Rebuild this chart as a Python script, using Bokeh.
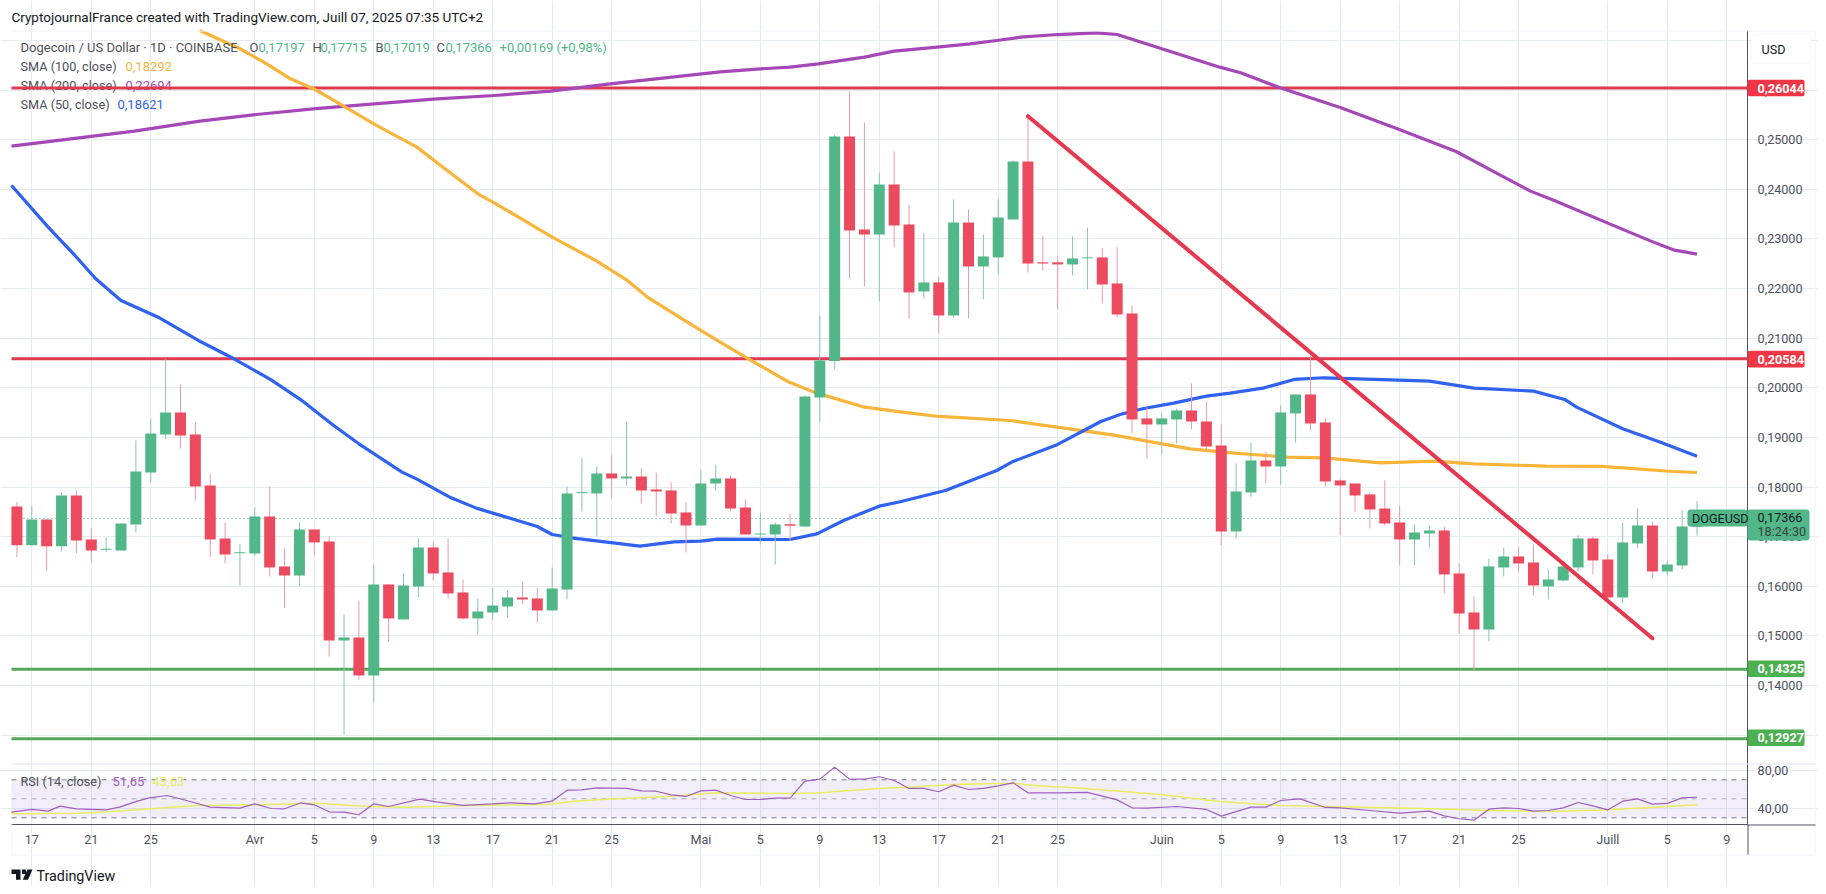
from bokeh.plotting import figure
from bokeh.models import (Range1d, FixedTicker, LinearAxis, Label, BoxAnnotation,
                          PolyAnnotation, ColumnDataSource, Grid)
from bokeh.embed import file_html
from bokeh.resources import INLINE

# ---------------- data ----------------
opens = [.17608,.16828,.17345,.16808,.17829,.16942,.16734,.1672,.17245,.18293,.19059,.19503,.19059,.18031,.16962,.16665,
 .1666,.17406,.16398,.16216,.17144,.16902,.14906,.14966,.142,.16035,.1533,.15995,.16781,.16277,
 .15874,.1535,.1547,.15591,.15773,.15753,.15511,.15934,.17875,.1787,.18273,.18172,.18212,.1795,.1793,.17487,
 .17224,.18071,.18172,.17587,.17043,.17043,.1725,.17204,.19805,.20538,.25067,.23192,.23091,.241,.23293,.21942,
 .22124,.21458,.23333,.22446,.22628,.23394,.24563,.2253,.2253,.22487,.2261,.22628,.22103,.21499,.19382,
 .19261,.19362,.19543,.19321,.18837,.17103,.1789,.18535,.18414,.19483,.19866,.19301,.18132,.18071,.1785,.17567,
 .17285,.16942,.17063,.17124,.16257,.1547,.15128,.16378,.166,.16478,.15995,.16116,.16378,.16962,
 .16539,.15773,.16862,.17224,.16297,.16418,.17197]
highs = [.17702,.17621,.17345,.1789,.1793,.17164,.16983,.17265,.18938,.19382,.20585,.20067,.19301,.18273,.17285,.16841,
 .17587,.18011,.16761,.17285,.17144,.17003,.1543,.15712,.16438,.16035,.16257,.16962,.16882,.16962,
 .16136,.15753,.15954,.15914,.16095,.15974,.16378,.18011,.18575,.18414,.18656,.19321,.18374,.18293,.18091,.17688,
 .18353,.18454,.18233,.17749,.17487,.17285,.17466,.19845,.21458,.25107,.25974,.25349,.24341,.24765,.23696,.23112,
 .22245,.23797,.23595,.23091,.23817,.24583,.2549,.23071,.22668,.23051,.23233,.22809,.22829,.2166,.19603,
 .19503,.1958,.20087,.19724,.19261,.18474,.18898,.18716,.19644,.19866,.20652,.19382,.18172,.18071,.1789,.18132,
 .17628,.17245,.17224,.17204,.16458,.15793,.16559,.16781,.16801,.16841,.16337,.16499,.17023,.17003,
 .1664,.17285,.17567,.17305,.16519,.17527,.17715]
lows = [.16586,.16828,.16304,.16707,.16667,.16485,.16687,.1672,.17083,.18091,.18965,.18777,.17728,.16586,.16465,.16015,
 .16613,.16196,.15558,.16015,.1662,.14583,.13011,.1412,.13656,.14886,.1533,.15773,.16116,.15753,
 .1533,.15027,.15309,.1537,.15632,.15269,.15511,.15733,.17507,.17003,.17769,.18031,.17668,.17406,.17265,.1668,
 .17224,.1793,.17507,.17043,.16841,.16438,.16909,.1719,.19301,.20363,.22204,.22043,.21741,.22829,.21398,.21801,
 .21095,.21418,.21398,.21781,.22285,.23394,.22325,.22366,.21579,.22265,.21983,.217,.21418,.19079,.18575,
 .18656,.18878,.1916,.18737,.16821,.16962,.17809,.18071,.18051,.18898,.1914,.18011,.17023,.17487,.17164,.17224,
 .16418,.16418,.16781,.15853,.15047,.143,.14886,.16196,.16277,.15813,.15733,.16095,.16297,.16237,
 .15712,.15672,.16761,.16156,.16216,.16337,.17019]
closes = [.16828,.17345,.16808,.17829,.16922,.1672,.16755,.17265,.18313,.19079,.19503,.19039,.18011,.16942,.1664,.16685,
 .17406,.16378,.16216,.17144,.16882,.14906,.14966,.142,.16035,.1535,.16015,.16781,.16257,.15853,
 .1535,.15491,.15611,.15773,.15733,.15511,.15954,.1787,.17895,.18273,.18172,.18212,.1793,.1791,.17466,.17224,
 .18071,.18172,.17567,.17043,.17063,.17245,.1722,.19825,.20551,.25067,.23172,.23091,.241,.23273,.21922,.22124,
 .21458,.23333,.22446,.22648,.23434,.24563,.22507,.22505,.22487,.22608,.2263,.22083,.21478,.19362,.19261,
 .19382,.19543,.19321,.18817,.17103,.1791,.18535,.18414,.19503,.19866,.19281,.18112,.18031,.17829,.17547,.17265,
 .16942,.17083,.17124,.16237,.1545,.15128,.16398,.166,.16458,.16015,.16136,.16398,.16962,.16519,
 .15773,.16882,.17224,.16297,.16438,.17204,.17366]

sma50_day = [-0.365,2.1,3.9,5.3,7,9.5,12.2,14.6,17.1,19.1,21.3,23,25.9,26.9,29.2,30.9,35,36,37.3,41.9,44.2,46,47.1,52,53.8,55.6,58,59.4,
             62.45,65.9,67,70,72.9,74.2,75.7,77.8,80,81.6,83.9,85.9,87.9,92.4,95,98,102,104.1,104.9,108,110.5,113]
sma50_val = [.24079,.23239,.22668,.22198,.21761,.21423,.20954,.20585,.20161,.19758,.19241,.18871,.183,.18159,.17782,.17574,.17204,.17043,.16976,.16808,.16895,.16909,.16949,.16942,.17056,.17325,.17614,.17702,
             .1793,.18333,.18515,.18858,.19321,.19462,.19577,.19691,.19832,.19892,.2,.20168,.20202,.20161,.20134,.19993,.19933,.19765,.1961,.19173,.18905,.18621]
sma100_day = [12.3,15,16.8,18.4,20.1,22,24,26.9,28.5,31,32.1,36,39,41,42.4,44.9,47.1,49,51.8,53.6,56.9,59.4,62,66.8,71.5,73.8,76,78.9,81.9,85.4,87.9,91.7,95.3,98,102.8,106.6,111.4,113]
sma100_val = [.27204,.26835,.26532,.2623,.26008,.25672,.25322,.24852,.24483,.23911,.2373,.23038,.22554,.22177,.21828,.21358,.20954,.20618,.20134,.19913,.19617,.19516,.19422,.19341,.1914,.19046,.18925,.1877,.18683,.18602,.18589,.18488,.18522,.18468,.18421,.18414,.18313,.18292]
sma200_day = [-0.365,5,7.9,12.3,15.9,20.1,28,32.1,35.9,39.9,47.3,50,52,53.9,57,59,61.9,64.1,65.9,67.5,70,72.6,74,77,80.9,82.3,85,89,92.8,96.8,99.8,101.8,103.4,107,109.9,111.4,113]
sma200_val = [.24872,.25067,.25174,.25376,.25503,.25630,.25820,.25893,.2598,.26128,.26370,.2643,.26464,.26531,.26666,.26786,.26867,.26934,.27001,.27068,.27122,.27156,.27122,.26834,.26464,.2635,.26044,.25651,.25228,.24764,.24281,.23965,.23776,.2332,.22957,.22782,.22694]

rsi_day = [-0.365,1,2.1,2.9,4,6,6.9,8.1,8.9,10.1,11.4,13,15,16,17.1,18,19.1,20,21,22,23,24,25,27.1,28.2,30,32,33.2,34.8,36,37,38,39,41,42,43,44,45,46,47,48,49,50,51,52,53,54,55,56,57,58,59,60,61,62,63,64,65,66,67,68,69,70,72,73,74,75,76,78,80,81,83,84,85,86.3,88,89,91,93,95,96,97,98,99,100,101,102,103,104,105,106,107,108,109,110,111,112,113]
rsi_val = [36,38.8,37,42.3,39.5,38.4,41.2,47.5,51,53.5,48.2,41.2,40.2,44.7,39.8,39.5,45.8,43.7,36.3,36,33.2,44.7,41.9,49.6,46.8,43,44.7,45.8,44.7,47.5,59.1,59.5,61.6,60.9,58.4,58,54.2,52.5,58.4,59.1,53.5,49.3,49.3,50.7,50.7,68.6,70.7,83.3,70.7,70.7,73.2,69.3,60.9,60.9,57.4,64.4,59.8,60.9,63.7,66.8,56.3,56.3,56.3,56.7,52.8,48.9,40.5,40.2,41.9,38.8,31.8,41.2,41.2,48.2,50,40.9,40.5,37.7,34.9,37,32.1,29,27.5,39.1,40.5,39.8,37,37.7,40.5,46.1,42.6,38.4,47.5,50,44.4,45.1,51,51.65]
rsi_ma_day = [-0.365,4,6,9,12.2,16.2,20.2,23.6,26.3,30,35.6,37.5,39.6,43.7,47.1,52,53.8,57.9,59.9,63,67,68.4,71.1,74.2,76.9,80.9,85,92.1,96.6,98.9,103.3,107,111,113]
rsi_ma_val = [34.2,34.9,36,39.5,43,43.7,45.4,41.9,41.2,43,44,47.5,49.6,52.5,56.3,55.6,56,60.9,62.3,65.1,66.5,64,61.6,58,54.6,47.2,43,40.5,39.1,37.7,36.7,38.4,41.9,43.63]

resistance_levels = [0.26044, 0.20584]
support_levels = [0.14325, 0.12927]
trend_day = [68, 110]
trend_val = [0.25476, 0.14951]
last_price = 0.17366

price_ticks = [.13,.14,.15,.16,.17,.18,.19,.20,.21,.22,.23,.24,.25,.26]
price_grid = price_ticks + [.27]
rsi_ticks = [40, 80]
date_ticks = [1,5,9,16,20,24,28,32,36,40,46,50,54,58,62,66,70,77,81,85,89,93,97,101,107,111,115]
date_labels = ["17","21","25","Avr","5","9","13","17","21","25","Mai","5","9","13","17","21","25",
               "Juin","5","9","13","17","21","25","Juill","5","9"]

# ---------------- style ----------------
FONT = "Roboto"
GREEN = "#52b788"; RED = "#ec4a5e"
GRID = "#e6ebf0"; TXT = "#4d505a"; AXIS = "#50535e"
W, H = 1818, 886

# The frame fills the whole canvas, so that text and tags outside the panes are not cut;
# axis and grid extents are limited with bounds.
DAY_L, DAY_R = -0.365, 116.4          # pane left / right
P_TOP, P_SEP, P_AX = .27204, .12425, .11195   # price at pane top, separator, time axis
R_LO, R_HI = 22.9, 87.2

p = figure(width=W, height=H, x_range=Range1d(-1.105, 121.17), y_range=Range1d(.09946, .27808),
           output_backend="svg", toolbar_location=None,
           min_border=0, x_axis_location=None, y_axis_location=None)
p.extra_y_ranges = {"rsi": Range1d(-42.3, 890.3)}
p.outline_line_color = None
p.background_fill_color = "white"; p.border_fill_color = "white"
p.xgrid.visible = False; p.ygrid.visible = False

def style_axis(ax):
    ax.axis_line_color = AXIS; ax.axis_line_width = 1
    ax.major_tick_line_color = None; ax.minor_tick_line_color = None
    ax.major_tick_out = 0; ax.major_tick_in = 0; ax.minor_tick_out = 0; ax.minor_tick_in = 0
    ax.major_label_text_font = FONT; ax.major_label_text_font_size = "12.6px"
    ax.major_label_text_color = TXT

pa = LinearAxis(ticker=FixedTicker(ticks=price_ticks), fixed_location=DAY_R, bounds=(P_SEP, P_TOP),
                major_label_overrides={t: f"{t:.5f}".replace(".", ",") for t in price_ticks})
style_axis(pa); pa.major_label_standoff = 10
p.add_layout(pa, "right")
ra = LinearAxis(ticker=FixedTicker(ticks=rsi_ticks), fixed_location=DAY_R, bounds=(R_LO, R_HI), y_range_name="rsi",
                major_label_overrides={t: f"{t:.2f}".replace(".", ",") for t in rsi_ticks})
style_axis(ra); ra.major_label_standoff = 10
p.add_layout(ra, "right")
xa = LinearAxis(ticker=FixedTicker(ticks=date_ticks), fixed_location=P_AX, bounds=(DAY_L, DAY_R),
                major_label_overrides=dict(zip(date_ticks, date_labels)))
style_axis(xa); xa.major_label_standoff = 7
p.add_layout(xa, "below")

p.add_layout(Grid(dimension=1, ticker=FixedTicker(ticks=price_grid), bounds=(DAY_L, DAY_R), grid_line_color=GRID))
p.add_layout(Grid(dimension=1, ticker=FixedTicker(ticks=rsi_ticks), y_range_name="rsi", bounds=(DAY_L, DAY_R), grid_line_color=GRID))
p.add_layout(Grid(dimension=0, ticker=FixedTicker(ticks=date_ticks), bounds=(P_AX, P_TOP), grid_line_color=GRID))

# ---------------- price pane ----------------
for v in resistance_levels:
    p.line([DAY_L, DAY_R], [v, v], line_color="#dd3a4f", line_width=3)
for v in support_levels:
    p.line([DAY_L, DAY_R], [v, v], line_color="#54a958", line_width=3)
p.line([DAY_L, DAY_R], [last_price, last_price], line_color="#3fae86", line_width=1, line_dash=[1, 3])

p.line(sma200_day, sma200_val, line_color="#a547b7", line_width=3.2, line_join="round")
p.line(sma100_day, sma100_val, line_color="#f9b43a", line_width=3.2, line_join="round")
p.line(sma50_day, sma50_val, line_color="#2f62f0", line_width=3.2, line_join="round")

days = list(range(len(opens)))
colors = [GREEN if c >= o else RED for o, c in zip(opens, closes)]
wick_colors = ["#86c4b0" if c >= o else "#eb9aa8" for o, c in zip(opens, closes)]
src = ColumnDataSource(dict(day=days, o=opens, h=highs, l=lows, c=closes,
                            top=[max(a, b) for a, b in zip(opens, closes)],
                            bot=[min(a, b) for a, b in zip(opens, closes)],
                            col=colors, wick=wick_colors))
p.segment("day", "h", "day", "l", source=src, line_color="wick", line_width=1)
p.vbar(x="day", top="top", bottom="bot", width=0.74, source=src, fill_color="col", line_color=None)

p.line(trend_day, trend_val, line_color="#e6384f", line_width=4, line_cap="round")

# ---------------- RSI pane ----------------
p.quad(left=[DAY_L], right=[DAY_R], bottom=[30], top=[70], y_range_name="rsi",
       fill_color="#7e57c2", fill_alpha=0.1, line_color=None)
for lvl, al in zip([70, 50, 30], [1, .55, 1]):
    p.line([DAY_L, DAY_R], [lvl, lvl], y_range_name="rsi", line_color="#787b86", line_width=1,
           line_dash=[5, 5], line_alpha=al)
p.line(rsi_ma_day, rsi_ma_val, y_range_name="rsi", line_color="#e6ee5e", line_width=1.5)
p.line(rsi_day, rsi_val, y_range_name="rsi", line_color="#a05fc0", line_width=1.2)

# ---------------- decorations ----------------
def rect(x0, x1, y0, y1, color, radius=0, line=None):
    p.add_layout(BoxAnnotation(left=x0, right=x1, top=y0, bottom=y1,
                               left_units="canvas", right_units="canvas", top_units="canvas", bottom_units="canvas",
                               fill_color=color, fill_alpha=1, line_color=line, border_radius=radius,
                               level="annotation", editable=False))

def txt(X, Y, text, color=TXT, size=13, level="annotation", weight="normal"):
    p.add_layout(Label(x=X, y=H - Y, x_units="screen", y_units="screen", text=text,
                       text_color=color, text_font=FONT, text_font_size=f"{size}px",
                       text_baseline="middle", text_align="left", text_font_style=weight, level=level))

EDGE = "#f0f3fa"
rect(11, 1815, 30, 31, EDGE)
rect(1814, 1815, 30, 855, EDGE)
rect(11, 1815, 854, 855, EDGE)
rect(11, 12, 824, 855, EDGE)
rect(11, 1815, 763, 764, "#dfe3ea")
rect(1747, 1815, 824, 825, AXIS)
rect(1747, 1748, 824, 854, AXIS)

# price tags
for v, c, Y in [(.26044, "#f23645", 87.5), (.20584, "#f23645", 358.6), (.14325, "#4caf50", 668.3), (.12927, "#4caf50", 737.3)]:
    rect(1747, 1804, Y - 8.3, Y + 8.3, c, radius=2)
    txt(1757, Y, f"{v:.5f}".replace(".", ","), color="white", size=12.6, weight="bold")

rect(1687, 1747, 509, 526, "#52b788", radius=3)
rect(1747, 1809, 509, 540, "#52b788", radius=3)
txt(1691.5, 517.5, "DOGEUSD", color="#131722", size=12.6)
txt(1757, 517, "0,17366", color="#131722", size=12.6)
txt(1757, 531, "18:24:30", color="#3b3e46", size=12.6)

rect(1751, 1811, 34, 63, "white", radius=4, line="#e8ebf0")
txt(1761, 48.5, "USD", color="#131722", size=12.6)

# header
txt(11, 16.7, "CryptojournalFrance created with TradingView.com, Juill 07, 2025 07:35 UTC+2", color="#131722", size=13.5)

VAL = "#52b788"
txt(20, 46.7, "Dogecoin / US Dollar · 1D · COINBASE")
for X, t, c in [(249, "O", TXT), (258, "0,17197", VAL), (312, "H", TXT), (320, "0,17715", VAL),
                (375, "B", TXT), (383, "0,17019", VAL), (436, "C", TXT), (445, "0,17366", VAL),
                (499, "+0,00169 (+0,98%)", VAL)]:
    txt(X, 46.7, t, color=c)
txt(20, 65.7, "SMA (100, close)", size=12.7)
txt(125, 65.7, "0,18292", color="#f9b43a")
txt(20, 84.7, "SMA (200, close)", size=12.7, level="underlay")
txt(125, 84.7, "0,22694", color="#a547b7", level="underlay")
txt(20, 103.7, "SMA (50, close)", size=12.7)
txt(117, 103.7, "0,18621", color="#2f62f0")

txt(20, 780.7, "RSI (14, close)", size=12.7)
txt(112, 780.7, "51,65", color="#a05fc0")
txt(152, 780.7, "43,63", color="#e6ee5e")

# TradingView logo
def poly(pts):
    p.add_layout(PolyAnnotation(xs=[a for a, b in pts], ys=[b for a, b in pts],
                                xs_units="canvas", ys_units="canvas", fill_color="#131722", fill_alpha=1,
                                line_color=None, level="annotation", editable=False))

poly([(11, 869), (20, 869), (20, 879.3), (15.5, 879.3), (15.5, 873.6), (11, 873.6)])
poly([(21.4, 869), (25.6, 869), (25.6, 873.4), (21.4, 873.4)])
poly([(27, 869), (32, 869), (27.5, 879.3), (22.2, 879.3)])
txt(36, 875, "TradingView", color="#131722", size=14.3)

open("out.html", "w").write(file_html(p, INLINE))
